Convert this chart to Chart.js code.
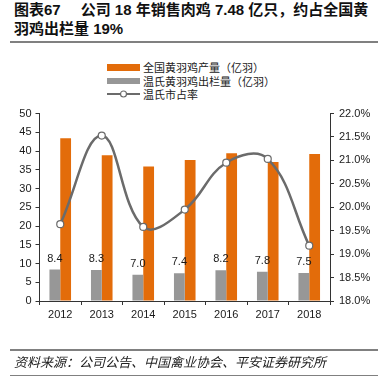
<!DOCTYPE html>
<html>
<head>
<meta charset="utf-8">
<script src="https://cdn.jsdelivr.net/npm/chart.js@4"></script>
<style>
  html, body { margin: 0; padding: 0; background: #fff; width: 388px; height: 376px; overflow: hidden; }
  body { position: relative; font-family: "Liberation Sans", "Noto Sans CJK SC", sans-serif; color: #111; }
  #chart { position: absolute; left: 0; top: 0; }
  #title { position: absolute; left: 14px; top: 0px; font-size: 15px; font-weight: bold; line-height: 19px; white-space: nowrap; color: #111; }
  #title .gap { display: inline-block; width: 20px; }
  .rule { position: absolute; left: 10px; width: 368px; background: #808080; }
  #legend { position: absolute; left: 107px; top: 60px; font-size: 11px; font-family: "Noto Sans CJK SC", sans-serif; color: #222; }
  .lg { position: absolute; left: 0; height: 14px; white-space: nowrap; display: flex; align-items: center; }
  .lg .mk { width: 33px; height: 14px; position: relative; margin-right: 3px; flex: none; }
  .lg .box { position: absolute; left: 0; top: 4px; width: 33px; height: 6.5px; }
  #footer { position: absolute; left: 14px; top: 353px; font-size: 13px; font-style: italic; white-space: nowrap; font-family: "Noto Sans CJK SC", sans-serif; color: #222; line-height: 17px; }
</style>
</head>
<body>
<div id="title">图表67<span class="gap"></span>公司 18 年销售肉鸡 7.48 亿只，约占全国黄<br>羽鸡出栏量 19%</div>
<div class="rule" style="top:41px;height:2px;"></div>
<div id="legend"></div>
<canvas id="chart" width="388" height="376"></canvas>
<div class="rule" style="top:349px;height:1.5px;"></div>
<div id="footer">资料来源：公司公告、中国禽业协会、平安证券研究所</div>
<div class="rule" style="top:374.5px;height:1.5px;"></div>
<script>
const categories = ['2012', '2013', '2014', '2015', '2016', '2017', '2018'];
const nationalOutput = [43.4, 38.9, 35.9, 37.6, 39.4, 37.1, 39.2];
const wensOutput = [8.4, 8.3, 7.0, 7.4, 8.2, 7.8, 7.5];
const wensShare = [19.64, 21.53, 19.58, 19.95, 20.95, 21.03, 19.18];
const seriesNames = ['全国黄羽鸡产量（亿羽）', '温氏黄羽鸡出栏量（亿羽）', '温氏市占率'];
const leftTicks = { min: 0, max: 50, step: 5 };
const rightTicks = { min: 18, max: 22, step: 0.5 };

const ORANGE = '#E36C0A';
const GRAY = '#979797';
const LINE = '#6b6b6b';
const AXIS = '#333333';
const TXT = '#1a1a1a';
const tickFont = { family: '"Liberation Sans", Arial, sans-serif', size: 11 };

const valueLabels = {
  id: 'valueLabels',
  afterDatasetsDraw(chart) {
    const ctx = chart.ctx;
    const meta = chart.getDatasetMeta(1);
    ctx.save();
    ctx.font = '11px "Liberation Sans", Arial, sans-serif';
    ctx.fillStyle = TXT;
    ctx.textAlign = 'center';
    ctx.textBaseline = 'middle';
    meta.data.forEach((bar, i) => {
      ctx.fillText(wensOutput[i].toFixed(1), bar.x, bar.y - 11);
    });
    ctx.restore();
  }
};

const chart = new Chart(document.getElementById('chart'), {
  type: 'bar',
  data: {
    labels: categories,
    datasets: [
      { type: 'line', label: seriesNames[2], data: wensShare, yAxisID: 'y1', order: 0,
        borderColor: LINE, borderWidth: 2.5, tension: 0.4, fill: false,
        pointRadius: 3.5, pointBackgroundColor: '#ffffff', pointBorderColor: LINE, pointBorderWidth: 1.2 },
      { label: seriesNames[1], data: wensOutput, yAxisID: 'y', order: 1, backgroundColor: GRAY,
        categoryPercentage: 0.52, barPercentage: 1.0 },
      { label: seriesNames[0], data: nationalOutput, yAxisID: 'y', order: 2, backgroundColor: ORANGE,
        categoryPercentage: 0.52, barPercentage: 1.0 }
    ]
  },
  options: {
    responsive: false,
    animation: false,
    devicePixelRatio: 1,
    layout: { padding: { top: 113.5, bottom: 45, left: 0, right: 0 } },
    plugins: { legend: { display: false }, tooltip: { enabled: false }, title: { display: false } },
    scales: {
      x: {
        grid: { display: true, drawOnChartArea: false, drawTicks: true, tickLength: 4, color: AXIS, offset: true },
        border: { display: true, color: AXIS, width: 1 },
        ticks: { color: TXT, font: tickFont, padding: 3, maxRotation: 0 },
        afterFit(s) { s.height = 30; }
      },
      y: {
        position: 'left', min: leftTicks.min, max: leftTicks.max,
        grid: { display: true, drawOnChartArea: false, drawTicks: true, tickLength: 4, color: AXIS },
        border: { display: true, color: AXIS, width: 1 },
        ticks: { stepSize: leftTicks.step, color: TXT, font: tickFont, padding: 4 },
        afterFit(s) { s.width = 39.5; }
      },
      y1: {
        position: 'right', min: rightTicks.min, max: rightTicks.max,
        grid: { display: true, drawOnChartArea: false, drawTicks: true, tickLength: 4, color: AXIS },
        border: { display: true, color: AXIS, width: 1 },
        ticks: { stepSize: rightTicks.step, color: TXT, font: tickFont, padding: 5,
          callback: v => Number(v).toFixed(1) + '%' },
        afterFit(s) { s.width = 58; }
      }
    }
  },
  plugins: [valueLabels]
});

// HTML legend built from the chart's datasets
const legend = document.getElementById('legend');
const order = [2, 1, 0];
order.forEach((di, row) => {
  const ds = chart.data.datasets[di];
  const item = document.createElement('div');
  item.className = 'lg';
  item.style.top = (row * 13.5) + 'px';
  const mk = document.createElement('div');
  mk.className = 'mk';
  if (ds.type === 'line') {
    mk.innerHTML = '<svg width="33" height="14"><line x1="0" y1="7" x2="33" y2="7" stroke="' + LINE +
      '" stroke-width="2"/><circle cx="16.5" cy="7" r="3" fill="#fff" stroke="' + LINE + '" stroke-width="1.2"/></svg>';
  } else {
    const b = document.createElement('div');
    b.className = 'box';
    b.style.background = ds.backgroundColor;
    mk.appendChild(b);
  }
  const t = document.createElement('span');
  t.textContent = ds.label;
  item.appendChild(mk);
  item.appendChild(t);
  legend.appendChild(item);
});
</script>
</body>
</html>
